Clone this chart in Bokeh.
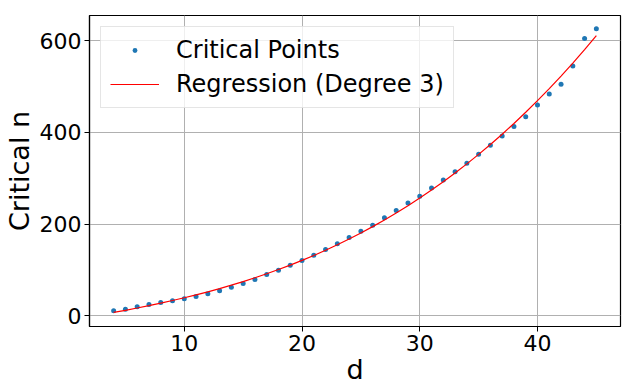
import numpy as np
from bokeh.plotting import figure
from bokeh.models import Range1d, Legend, LegendItem, FixedTicker
from bokeh.embed import file_html
from bokeh.resources import INLINE

# Data
d_values = list(range(4, 46))
critical_n = [10.9, 14.5, 19.6, 24.6, 29, 32.7, 37, 42, 48, 54.5,
              62.5, 70.5, 79, 90, 99.6, 110.5, 120.7, 132, 144.7, 157,
              170.8, 184.6, 197.7, 213.8, 229.8, 245.8, 261, 278.5, 296, 314,
              333, 352.6, 372, 392, 413, 434, 460, 484, 505, 544.6,
              605, 626]
regression_degree = 3
x_ticks = [10, 20, 30, 40]
y_ticks = [0, 200, 400, 600]

# Regression of degree 3 fitted to the points (as the chart's legend states)
coeffs = np.polyfit(d_values, critical_n, regression_degree)
fit_vals = list(np.polyval(coeffs, d_values))

FONT = "DejaVu Sans"

p = figure(width=632, height=390, output_backend="svg", toolbar_location=None,
           x_range=Range1d(1.95, 47.05), y_range=Range1d(-23.3, 655),
           min_border_left=86, min_border_right=12, min_border_top=15, min_border_bottom=64)

pts = p.scatter(d_values, critical_n, size=5, color="#1f77b4", line_color=None)
ln = p.line(d_values, fit_vals, line_color="red", line_width=1.2)

p.background_fill_color = "white"
p.border_fill_color = "white"
p.outline_line_color = "black"
p.outline_line_width = 1.2

for g in (p.xgrid, p.ygrid):
    g.grid_line_color = "#b0b0b0"
    g.grid_line_width = 1

p.xaxis.ticker = FixedTicker(ticks=x_ticks)
p.yaxis.ticker = FixedTicker(ticks=y_ticks)
p.xgrid.ticker = FixedTicker(ticks=x_ticks)
p.ygrid.ticker = FixedTicker(ticks=y_ticks)

for ax in (p.xaxis[0], p.yaxis[0]):
    ax.axis_line_color = "black"
    ax.axis_line_width = 1.2
    ax.major_tick_line_color = "black"
    ax.major_tick_out = 5
    ax.major_tick_in = 0
    ax.minor_tick_line_color = None
    ax.major_label_text_font = FONT
    ax.major_label_text_font_size = "22px"
    ax.major_label_text_color = "black"
    ax.axis_label_text_font = FONT
    ax.axis_label_text_font_size = "27px"
    ax.axis_label_text_font_style = "normal"
    ax.axis_label_text_color = "black"
    ax.major_label_standoff = 3

p.xaxis.axis_label = "d"
p.yaxis.axis_label = "Critical n"
p.xaxis.axis_label_standoff = 0
p.yaxis.axis_label_standoff = 2

legend = Legend(items=[LegendItem(label="Critical Points", renderers=[pts]),
                       LegendItem(label="Regression (Degree 3)", renderers=[ln])],
                location="top_left")
legend.label_text_font = FONT
legend.label_text_font_size = "24px"
legend.label_text_color = "black"
legend.glyph_width = 49
legend.glyph_height = 12
legend.label_height = 28
legend.label_standoff = 17
legend.spacing = 6
legend.padding = 9
legend.margin = 11
legend.border_line_color = "#cccccc"
legend.border_line_width = 1
legend.background_fill_color = "white"
legend.background_fill_alpha = 0.8
p.add_layout(legend)

open("out.html", "w").write(file_html(p, INLINE))
